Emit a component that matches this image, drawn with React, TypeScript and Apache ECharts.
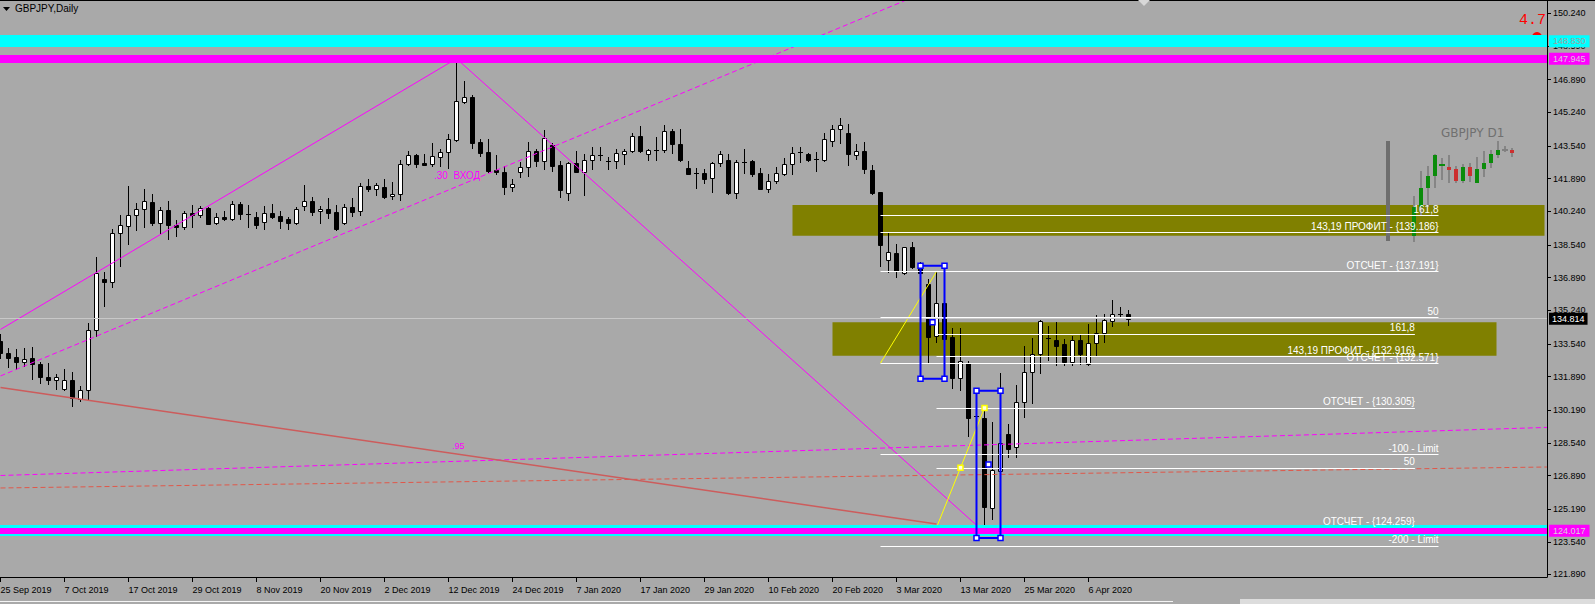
import React, { useEffect, useRef } from 'react';
import * as echarts from 'echarts';

const FONT = '"Liberation Sans", Arial, sans-serif';

// ---- x axis (bar index -> date label) ----
const dateTickIndex = [0, 8, 16, 24, 32, 40, 48, 56, 64, 72, 80, 88, 96, 104, 112, 120, 128, 136];
const dateLabels = ['25 Sep 2019', '7 Oct 2019', '17 Oct 2019', '29 Oct 2019', '8 Nov 2019', '20 Nov 2019', '2 Dec 2019', '12 Dec 2019', '24 Dec 2019', '7 Jan 2020', '17 Jan 2020', '29 Jan 2020', '10 Feb 2020', '20 Feb 2020', '3 Mar 2020', '13 Mar 2020', '25 Mar 2020', '6 Apr 2020'];

// ---- y axis tick labels ----
const priceTicks = [150.24, 148.59, 146.89, 145.24, 143.54, 141.89, 140.24, 138.54, 136.89, 135.24, 133.54, 131.89, 130.19, 128.54, 126.89, 125.19, 123.54, 121.89];

// ---- GBPJPY daily OHLC ----
const opens = [133.68,133.08,132.87,132.64,132.81,132.52,131.86,131.74,131.24,131.74,
130.77,131.19,134.22,136.81,136.65,139.12,139.47,140.03,140.33,140.69,
139.63,140.28,139.54,139.42,140.16,140.03,140.40,139.63,139.93,139.83,
140.60,140.10,139.93,139.68,140.13,139.98,139.83,139.63,140.48,140.74,
140.25,140.33,140.18,139.63,140.43,140.23,141.51,141.34,141.46,140.99,
141.09,142.61,143.06,142.66,142.61,142.96,143.23,143.84,145.74,146.01,
143.74,143.23,142.32,142.20,141.45,142.24,142.46,143.26,142.76,143.57,
142.57,141.14,142.66,142.24,142.81,143.06,142.77,142.76,143.11,143.26,
144.02,143.11,143.34,143.31,144.29,143.62,142.42,142.16,142.17,141.90,
142.66,142.81,141.18,142.73,142.76,142.15,141.36,141.75,142.10,142.61,
143.23,143.11,142.86,142.83,143.77,144.38,144.17,143.06,143.27,142.31,
141.19,137.79,138.11,137.12,138.43,137.44,136.55,133.94,135.59,133.87,
131.80,132.59,129.88,129.78,125.23,127.13,128.97,128.31,130.58,132.10,
133.01,133.80,133.73,133.53,132.64,133.73,132.50,133.57,134.07,134.69,
135.05,135.03];
const highs = [134.02,133.31,133.28,133.31,133.36,132.64,132.57,132.01,132.25,132.13,
131.43,134.57,137.91,137.18,139.32,140.05,141.51,140.65,141.36,141.11,
140.45,140.74,139.79,140.23,140.57,140.50,140.43,140.15,140.23,140.74,
140.69,140.57,140.20,140.50,140.60,140.23,139.95,140.45,141.58,140.96,
140.50,140.89,140.57,140.60,140.91,141.65,141.85,141.68,141.88,141.70,
142.83,143.28,143.11,143.13,143.69,143.40,144.12,147.95,146.82,146.11,
143.87,143.87,143.06,142.52,141.85,142.73,143.74,143.40,144.34,143.67,
142.78,142.73,143.28,143.11,143.47,143.47,142.96,143.38,143.40,144.21,
144.54,143.40,143.97,144.60,144.38,144.38,142.78,142.44,142.37,142.73,
143.26,143.11,142.83,143.38,142.83,142.41,142.10,142.49,142.91,143.47,
143.47,143.16,143.25,144.17,144.58,144.93,144.65,143.64,143.72,142.57,
141.21,139.14,138.57,138.43,138.67,137.70,136.80,137.24,135.75,134.32,
134.32,132.67,130.05,130.35,129.57,132.05,129.49,131.46,133.41,133.82,
134.74,134.44,134.63,133.80,133.94,134.04,134.54,135.00,135.03,135.75,
135.40,135.25];
const lows = [132.84,132.38,132.27,132.42,131.78,131.58,131.49,131.26,131.19,130.41,
130.65,130.70,133.95,135.47,136.43,137.49,138.60,139.31,139.46,139.54,
139.12,138.85,139.00,139.32,139.46,139.93,139.58,139.62,139.79,139.82,
139.86,139.46,139.41,139.34,139.90,139.41,139.34,139.62,140.32,140.06,
139.66,139.88,139.31,139.62,140.00,140.03,141.24,141.07,140.91,140.86,
140.81,142.56,142.49,142.56,142.54,142.54,142.44,143.80,145.72,143.45,
143.03,142.22,142.10,141.11,141.28,141.98,142.02,142.52,142.37,142.25,
140.96,140.82,142.22,141.08,142.37,142.83,142.37,142.44,142.64,143.21,
143.21,142.81,142.83,143.23,143.16,142.78,142.10,141.43,141.68,141.23,
142.52,141.09,140.92,142.15,142.04,141.34,141.23,141.65,142.08,142.12,
142.71,142.76,142.27,142.76,143.55,143.70,142.57,142.88,142.19,141.13,
137.49,137.15,136.93,137.05,137.39,136.95,132.55,133.65,133.57,131.29,
131.21,128.90,129.55,124.02,124.67,126.66,127.81,127.84,129.86,130.57,
132.08,132.72,132.47,132.47,132.47,132.52,132.47,132.93,133.65,134.44,
134.91,134.51];
const closes = [133.06,132.84,132.64,132.76,132.50,131.85,131.73,131.85,131.74,130.82,
131.19,134.22,137.10,136.65,139.12,139.53,140.03,140.33,140.74,139.63,
140.28,139.53,139.42,140.13,140.05,140.38,139.61,139.93,139.83,140.60,
140.08,140.03,139.56,140.13,139.96,139.76,139.63,140.33,140.74,140.22,
140.33,140.16,139.36,140.43,140.22,141.51,141.34,141.55,140.94,141.11,
142.61,143.06,142.61,142.59,143.01,143.21,143.87,145.79,145.99,143.70,
143.20,142.25,142.24,141.45,141.60,142.46,143.26,142.76,143.92,142.54,
141.33,142.66,142.24,142.81,143.06,143.04,142.75,143.16,143.26,144.02,
143.30,143.33,143.32,144.29,143.62,142.84,142.14,142.15,141.88,142.66,
143.11,141.18,142.71,142.71,142.12,141.38,141.75,142.15,142.61,143.16,
143.16,142.83,142.81,143.87,144.38,144.58,143.11,143.27,142.39,141.18,
138.55,138.16,137.22,138.42,137.44,137.10,133.90,135.59,133.78,131.80,
132.69,129.81,129.84,125.31,127.17,128.55,128.23,130.58,132.10,133.01,
134.69,133.85,133.45,132.64,133.73,133.04,133.57,134.07,134.73,135.03,
135.05,134.814];

const lastPrice = 134.814;
const miniFirstBar = 127; // mini "GBPJPY D1" panel shows the last 15 bars

// ---- horizontal levels ----
const bandTop = { cyan: 148.83, magenta: 147.945 };
const bandBottom = 124.10;
const bandLabels = ['148.830', '147.945', '124.017'];

// fib set A (drawn from bar 110), set B (from bar 117)
const fibA = [140.03, 139.186, 137.191, 134.881, 132.571, 127.951, 123.331];
const fibALabels = ['161,8', '143,19 ПРОФИТ - {139.186}', 'ОТСЧЕТ - {137.191}', '50', 'ОТСЧЕТ - {132.571}', '-100 - Limit', '-200 - Limit'];
const fibARange = [110, 179.75];
const fibB = [134.04, 132.916, 130.305, 127.282, 124.259];
const fibBLabels = ['161,8', '143,19 ПРОФИТ - {132.916}', 'ОТСЧЕТ - {130.305}', '50', 'ОТСЧЕТ - {124.259}'];
const fibBRange = [117, 176.8];

// olive zones [x0, p0, x1, p1]
const oliveZones = [[99, 140.556, 193, 139.005], [104, 134.63, 187, 132.943]];

// trend lines (bar index, price)
const zigzag = [[0, 134.27], [57, 147.95], [123, 124.02]];
const redTrend = [[0, 131.34], [117, 124.44]];
const magentaDashSteep = [[0, 131.92], [113, 150.87]];
const magentaDashFlat = [[0, 126.89], [193.3, 129.32]];
const redDashFlat = [[0, 126.26], [193.3, 127.32]];
const yellowA = [[110, 132.571], [117, 137.191]];
const yellowB = [[117, 124.259], [123, 130.305]];

// blue selection boxes and handles
const blueBoxes = [[115, 137.49, 118, 131.78], [122, 131.17, 125, 123.73]];
const blueHandles = [[115, 137.49], [118, 137.49], [115, 131.78], [118, 131.78], [116.5, 134.635],
  [122, 131.17], [125, 131.17], [122, 123.73], [125, 123.73], [123.5, 127.45]];
const yellowHandles = [[123, 130.305], [120, 127.282]];

const candleData = opens.map((o, i) => [i, o, closes[i], lows[i], highs[i]]);
const miniData = opens.slice(miniFirstBar).map((o, k) => [k, o, closes[miniFirstBar + k], lows[miniFirstBar + k], highs[miniFirstBar + k]]);

const renderMain = (params: any, api: any) => {
  const i = api.value(0), o = api.value(1), c = api.value(2), l = api.value(3), h = api.value(4);
  const po = api.coord([i, o]);
  const cx = Math.floor(po[0]) + 0.5;
  const yo = po[1];
  const yc = api.coord([i, c])[1];
  const yh = Math.round(api.coord([i, h])[1]);
  const yl = Math.round(api.coord([i, l])[1]);
  const top = Math.round(Math.min(yo, yc));
  const bot = Math.round(Math.max(yo, yc));
  const children: any[] = [
    { type: 'line', shape: { x1: cx, y1: yh, x2: cx, y2: yl + 1 }, style: { stroke: '#000', lineWidth: 1 } },
  ];
  if (bot - top < 2) {
    children.push({ type: 'line', shape: { x1: cx - 2.5, y1: top + 0.5, x2: cx + 2.5, y2: top + 0.5 }, style: { stroke: '#000', lineWidth: 1 } });
  } else {
    children.push({ type: 'rect', shape: { x: cx - 2, y: top + 0.5, width: 4, height: bot - top }, style: { fill: c > o ? '#fff' : '#000', stroke: '#000', lineWidth: 1 } });
  }
  return { type: 'group', children };
};

const renderMini = (params: any, api: any) => {
  const k = api.value(0), o = api.value(1), c = api.value(2), l = api.value(3), h = api.value(4);
  const po = api.coord([k, o]);
  const cx = Math.round(po[0]);
  const yo = po[1];
  const yc = api.coord([k, c])[1];
  const yh = Math.round(api.coord([k, h])[1]);
  const yl = Math.round(api.coord([k, l])[1]);
  const top = Math.round(Math.min(yo, yc));
  const bot = Math.round(Math.max(yo, yc));
  const col = c > o ? '#0b8c0b' : c < o ? '#cc3030' : '#808080';
  const children: any[] = [
    { type: 'line', shape: { x1: cx, y1: yh, x2: cx, y2: yl }, style: { stroke: '#858585', lineWidth: 2 } },
  ];
  if (bot - top < 2) {
    children.push({ type: 'rect', shape: { x: cx - 3, y: top - 1, width: 6, height: 2 }, style: { fill: col } });
  } else {
    children.push({ type: 'rect', shape: { x: cx - 2, y: top, width: 4, height: bot - top }, style: { fill: col } });
  }
  return { type: 'group', children };
};

const seg = (a: number[], b: number[], color: string, width: number, type: any) => [
  { coord: a, lineStyle: { color, width, type }, label: { show: false } },
  { coord: b },
];

const fibItems = (levels: number[], labels: string[], range: number[]) =>
  levels.map((lv, k) => [
    {
      coord: [range[0], lv],
      lineStyle: { color: '#ffffff', width: 1, type: 'solid' },
      label: {
        show: true, position: 'insideEndTop', formatter: () => labels[k], color: '#ffffff',
        fontSize: 10, fontFamily: FONT, lineHeight: 10, distance: [0, 1],
      },
    },
    { coord: [range[1], lv] },
  ]);

const bandLabel = (text: string, bg: string, fg: string) => ({
  show: true, position: 'end', formatter: () => text, backgroundColor: bg, color: fg,
  fontSize: 9, fontFamily: FONT, lineHeight: 10, padding: [1, 4, 1, 4], distance: 2,
});

const markLineData: any[] = [
  seg(zigzag[0], zigzag[1], '#ff00ff', 1, 'solid'),
  seg(zigzag[1], zigzag[2], '#ff00ff', 1, 'solid'),
  seg(magentaDashSteep[0], magentaDashSteep[1], '#ff00ff', 1, [5, 3]),
  seg(magentaDashFlat[0], magentaDashFlat[1], '#ff00ff', 1, [5, 3]),
  seg(redDashFlat[0], redDashFlat[1], '#e0584a', 1, [5, 3]),
  seg(redTrend[0], redTrend[1], '#cd5c5c', 1.5, 'solid'),
  seg(yellowA[0], yellowA[1], '#ffff00', 1, 'solid'),
  seg(yellowB[0], yellowB[1], '#ffff00', 1, 'solid'),
  ...fibItems(fibA, fibALabels, fibARange),
  ...fibItems(fibB, fibBLabels, fibBRange),
  {
    yAxis: lastPrice, lineStyle: { color: '#c8c8c8', width: 1, type: 'solid' },
    label: { ...bandLabel(lastPrice.toFixed(3), '#000000', '#ffffff'), padding: [1, 3, 1, 3] },
  },
  { yAxis: bandTop.cyan, lineStyle: { color: '#00ffff', width: 12, type: 'solid' }, label: bandLabel(bandLabels[0], '#00ffff', '#a0a0a0') },
  { yAxis: bandTop.magenta, lineStyle: { color: '#ff00ff', width: 8, type: 'solid' }, label: bandLabel(bandLabels[1], '#ff00ff', '#e0c4e0') },
  { yAxis: bandBottom, lineStyle: { color: '#00ffff', width: 11, type: 'solid' }, label: { show: false } },
  { yAxis: bandBottom, lineStyle: { color: '#ff00ff', width: 6, type: 'solid' }, label: bandLabel(bandLabels[2], '#ff00ff', '#d8d0d8') },
];

const txt = (text: string, x: number, y: number, font: string, fill: string, align = 'left', z = 10) => ({
  type: 'text', z, silent: true,
  style: { text, x, y, font, fill, align, verticalAlign: 'middle', textAlign: align, textVerticalAlign: 'middle' },
});

const option: any = {
  animation: false,
  backgroundColor: '#a9a9a9',
  grid: [
    { left: 0, top: 0, width: 1547, height: 577, containLabel: false, outerBoundsMode: 'none' },
    { left: 1400, top: 100, width: 140, height: 150, containLabel: false, outerBoundsMode: 'none' },
  ],
  xAxis: [
    {
      type: 'value', gridIndex: 0, min: -0.0625, max: 193.3125,
      splitLine: { show: false },
      axisLine: { show: true, onZero: false, lineStyle: { color: '#000', width: 1 } },
      axisTick: { show: true, customValues: dateTickIndex, length: 5, lineStyle: { color: '#000' } },
      axisLabel: {
        show: true, customValues: dateTickIndex, align: 'left', margin: 8, color: '#000',
        fontSize: 9, fontFamily: FONT,
        formatter: (v: number) => dateLabels[dateTickIndex.indexOf(Math.round(v))] ?? '',
      },
    },
    { type: 'value', gridIndex: 1, min: -2, max: 18, show: false },
  ],
  yAxis: [
    {
      type: 'value', gridIndex: 0, position: 'right', min: 121.763, max: 150.912,
      splitLine: { show: false },
      axisLine: { show: true, onZero: false, lineStyle: { color: '#000', width: 1 } },
      axisTick: { show: true, customValues: priceTicks, length: 4, lineStyle: { color: '#000' } },
      axisLabel: {
        show: true, customValues: priceTicks, margin: 6, color: '#000', fontSize: 9, fontFamily: FONT,
        formatter: (v: number) => v.toFixed(3),
      },
    },
    { type: 'value', gridIndex: 1, min: 127.21, max: 138.98, show: false },
  ],
  series: [
    {
      type: 'custom', name: 'GBPJPY', xAxisIndex: 0, yAxisIndex: 0, z: 2,
      dimensions: ['i', 'open', 'close', 'low', 'high'],
      encode: { x: 0, y: [1, 2, 3, 4] },
      data: candleData,
      renderItem: renderMain,
      silent: true,
      markArea: {
        silent: true, z: 1,
        data: oliveZones.map((zz) => [
          { coord: [zz[0], zz[1]], itemStyle: { color: '#808000', opacity: 1 } },
          { coord: [zz[2], zz[3]] },
        ]),
      },
      markLine: {
        silent: true, symbol: ['none', 'none'], z: 5, precision: 3,
        label: { show: false },
        data: markLineData,
      },
    },
    {
      type: 'custom', name: 'GBPJPY D1', xAxisIndex: 1, yAxisIndex: 1, z: 3,
      dimensions: ['k', 'open', 'close', 'low', 'high'],
      encode: { x: 0, y: [1, 2, 3, 4] },
      data: miniData,
      renderItem: renderMini,
      silent: true,
    },
    {
      type: 'scatter', name: 'handles', xAxisIndex: 0, yAxisIndex: 0, z: 7, silent: true,
      symbol: 'rect', symbolSize: 5,
      itemStyle: { color: '#ffffff', borderColor: '#0000ff', borderWidth: 1.5, opacity: 1 },
      data: blueHandles,
      markArea: {
        silent: true, z: 6,
        data: blueBoxes.map((b) => [
          { coord: [b[0], b[1]], itemStyle: { color: 'rgba(0,0,0,0)', borderColor: '#0000ff', borderWidth: 2, opacity: 1 } },
          { coord: [b[2], b[3]] },
        ]),
      },
    },
    {
      type: 'scatter', name: 'fibHandles', xAxisIndex: 0, yAxisIndex: 0, z: 7, silent: true,
      symbol: 'rect', symbolSize: 5,
      itemStyle: { color: '#ffffe0', borderColor: '#ffff00', borderWidth: 1.5, opacity: 1 },
      data: yellowHandles,
    },
  ],
  graphic: [
    { type: 'line', z: 10, silent: true, shape: { x1: 0, y1: 0.5, x2: 1595, y2: 0.5 }, style: { stroke: '#000', lineWidth: 1 } },
    { type: 'polygon', z: 10, silent: true, shape: { points: [[3, 7], [10, 7], [6.5, 11]] }, style: { fill: '#000' } },
    txt('GBPJPY,Daily', 15, 8.5, `10px ${FONT}`, '#000'),
    { type: 'polygon', z: 10, silent: true, shape: { points: [[1138, 0], [1150, 0], [1144, 6]] }, style: { fill: '#d8d8d8' } },
    { type: 'circle', z: 1, silent: true, shape: { cx: 1537, cy: 37, r: 5 }, style: { fill: '#ff0000' } },
    txt('4.7', 1519, 20, `15px "Liberation Mono", monospace`, '#ff0000'),
    txt('.30  ВХОД', 434, 175, `10px ${FONT}`, '#ff00ff'),
    txt('.95', 452, 446, `9px ${FONT}`, '#ff00ff'),
    { type: 'rect', z: 3, silent: true, shape: { x: 1386, y: 141, width: 4, height: 100 }, style: { fill: '#6e6e6e' } },
    txt('GBPJPY D1', 1441, 133, `12px "DejaVu Sans", sans-serif`, '#707070'),
    { type: 'line', z: 10, silent: true, shape: { x1: 0, y1: 601.5, x2: 1173, y2: 601.5 }, style: { stroke: '#f4f4f4', lineWidth: 1 } },
    { type: 'rect', z: 10, silent: true, shape: { x: 1240, y: 599, width: 355, height: 5 }, style: { fill: '#dcdcdc' } },
  ],
};

export default function App() {
  const ref = useRef<HTMLDivElement>(null);
  useEffect(() => {
    document.body.style.margin = '0';
    const chart = echarts.init(ref.current as HTMLDivElement, null, { renderer: 'svg' });
    chart.setOption(option);
    return () => chart.dispose();
  }, []);
  return (
    <div
      ref={ref}
      style={{ position: 'absolute', left: 0, top: 0, width: 1595, height: 604, background: '#a9a9a9' }}
    />
  );
}
